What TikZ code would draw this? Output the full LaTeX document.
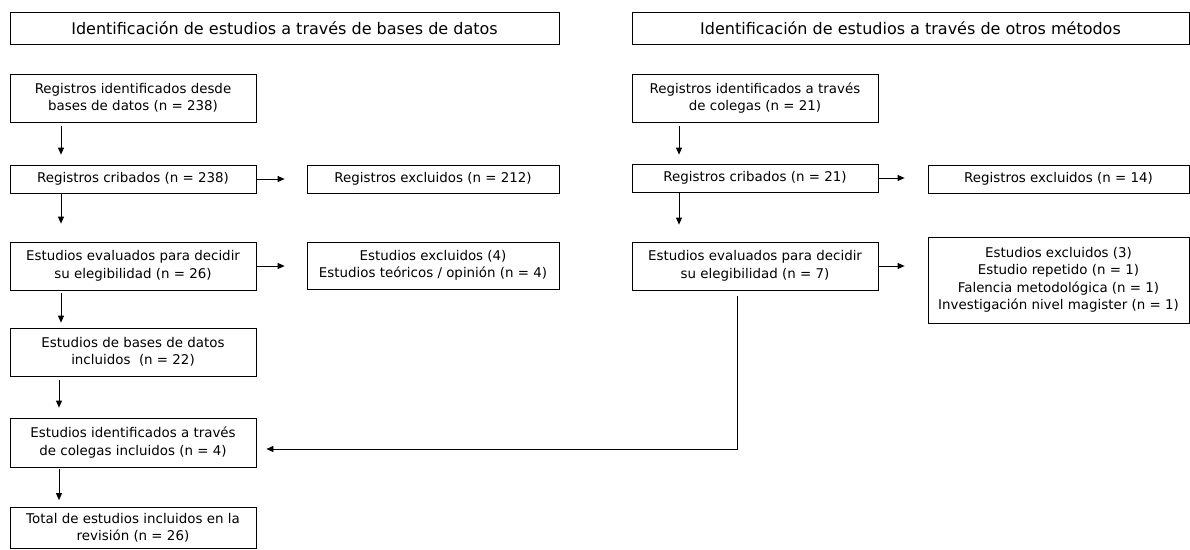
\documentclass[tikz,border=0pt]{standalone}
\usepackage{fontspec}
\setmainfont{DejaVu Sans}
\usetikzlibrary{arrows.meta}
\tikzset{
  box/.style={draw, line width=.8pt, align=center, inner sep=0pt, minimum width=246pt, minimum height=48pt, font=\fontsize{13.4}{17.5}\selectfont},
  head/.style={box, minimum height=32pt, font=\fontsize{16}{19}\selectfont},
  arr/.style={line width=.8pt, -{Triangle[length=7pt,width=6pt]}},
}
\begin{document}
\begin{tikzpicture}[x=1pt,y=-1pt]
\useasboundingbox (0,0) rectangle (1190,549);
\node[head, minimum width=549pt] (hdrdb) at (284.5,28) {Identificación de estudios a través de bases de datos};
\node[head, minimum width=557pt] (hdrot) at (910.5,28) {Identificación de estudios a través de otros métodos};
% bases de datos
\node[box] (dbid) at (133,98) {Registros identificados desde\\bases de datos (n = 238)};
\node[box, minimum height=28pt] (dbscr) at (133,179) {Registros cribados (n = 238)};
\node[box, minimum width=252pt, minimum height=28pt] (dbexc) at (433,179) {Registros excluidos (n = 212)};
\node[box] (dbelig) at (133,266) {Estudios evaluados para decidir\\su elegibilidad (n = 26)};
\node[box, minimum width=252pt, minimum height=47pt] (dbelx) at (433,265.5) {Estudios excluidos (4)\\Estudios teóricos / opinión (n = 4)};
\node[box] (dbinc) at (133,352) {Estudios de bases de datos\\incluidos~ (n = 22)};
\node[box, minimum height=49pt] (colinc) at (133,442.5) {Estudios identificados a través\\de colegas incluidos (n = 4)};
\node[box, minimum height=41pt] (total) at (133,528) {Total de estudios incluidos en la\\revisión (n = 26)};
% otros metodos
\node[box] (otid) at (755,98) {Registros identificados a través\\de colegas (n = 21)};
\node[box, minimum height=28pt] (otscr) at (755,178) {Registros cribados (n = 21)};
\node[box, minimum width=261pt, minimum height=28pt] (otexc) at (1058.5,179) {Registros excluidos (n = 14)};
\node[box] (otelig) at (755,266) {Estudios evaluados para decidir\\su elegibilidad (n = 7)};
\node[box, minimum width=261pt, minimum height=86pt] (otelx) at (1058.5,280) {Estudios excluidos (3)\\Estudio repetido (n = 1)\\Falencia metodológica (n = 1)\\Investigación nivel magister (n = 1)};
\coordinate (cl) at (61,0);
\coordinate (cm) at (59,0);
\coordinate (cr) at (679,0);
\coordinate (vx) at (737,449);
\draw[arr, shorten <=4pt, shorten >=10pt] (dbid.south -| cl) -- (dbscr.north -| cl);
\draw[arr, shorten >=18pt] (dbscr.south -| cl) -- (dbelig.north -| cl);
\draw[arr, shorten <=3pt, shorten >=5pt] (dbelig.south -| cl) -- (dbinc.north -| cl);
\draw[arr, shorten <=4pt, shorten >=10pt] (dbinc.south -| cm) -- (colinc.north -| cm);
\draw[arr, shorten <=2pt, shorten >=7pt] (colinc.south -| cm) -- (total.north -| cm);
\draw[arr, shorten >=22pt] (dbscr.east) -- (dbexc.west);
\draw[arr, shorten >=22pt] (dbelig.east) -- (dbelx.west |- dbelig.east);
\draw[arr, shorten <=4pt, shorten >=9pt] (otid.south -| cr) -- (otscr.north -| cr);
\draw[arr, shorten >=17pt] (otscr.south -| cr) -- (otelig.north -| cr);
\draw[arr, shorten >=23pt] (otscr.east) -- (otexc.west |- otscr.east);
\draw[arr, shorten >=23pt] (otelig.east) -- (otelx.west |- otelig.east);
\draw[arr, shorten <=6pt, shorten >=10pt] (otelig.south -| vx) -- (vx) -- (colinc.east |- vx);
\end{tikzpicture}
\end{document}
